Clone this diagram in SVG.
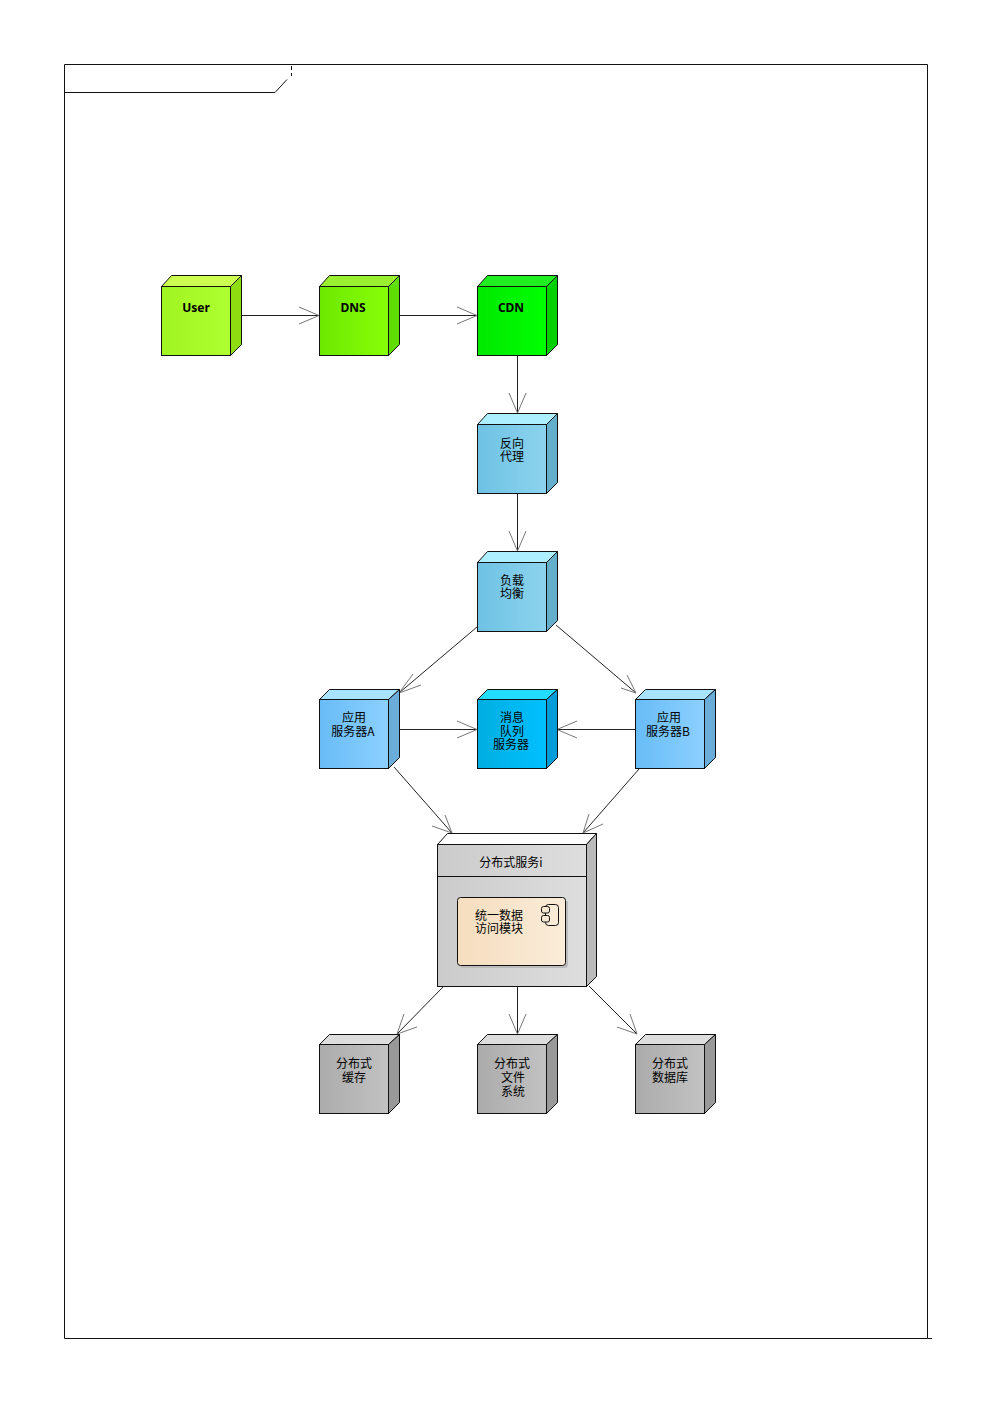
<svg xmlns="http://www.w3.org/2000/svg" width="992" height="1403" viewBox="0 0 992 1403">
<style>
.e{stroke:#111;stroke-width:1;stroke-linejoin:miter}
.f{fill:none;stroke:#111;stroke-width:1}
.p{stroke:#111;stroke-width:1;fill:#F8E8D2}
.c{fill:none;stroke:#222;stroke-width:1}
.h{fill:none;stroke:#777;stroke-width:1}
text{font-family:"Noto Sans CJK SC","Liberation Sans",sans-serif;font-size:12px;fill:#000;text-anchor:middle}
.b{font-family:"Noto Sans","Noto Sans CJK SC",sans-serif;font-weight:700;font-size:12px}
</style>
<defs>
<linearGradient id="gU"><stop offset="0" stop-color="#A0F420"/><stop offset="1" stop-color="#AFFF30"/></linearGradient>
<linearGradient id="gD"><stop offset="0" stop-color="#6CE800"/><stop offset="1" stop-color="#88FF08"/></linearGradient>
<linearGradient id="gC"><stop offset="0" stop-color="#00E800"/><stop offset="1" stop-color="#00FF00"/></linearGradient>
<linearGradient id="gP"><stop offset="0" stop-color="#6EC2E4"/><stop offset="1" stop-color="#8CD3EE"/></linearGradient>
<linearGradient id="gA"><stop offset="0" stop-color="#68BCF6"/><stop offset="1" stop-color="#8CD0FF"/></linearGradient>
<linearGradient id="gM"><stop offset="0" stop-color="#00AEE0"/><stop offset="1" stop-color="#00C0FF"/></linearGradient>
<linearGradient id="gS"><stop offset="0" stop-color="#CBCBCB"/><stop offset="1" stop-color="#DEDEDE"/></linearGradient>
<linearGradient id="gG"><stop offset="0" stop-color="#ABABAB"/><stop offset="1" stop-color="#C2C2C2"/></linearGradient>
<linearGradient id="gO"><stop offset="0" stop-color="#F6DDBE"/><stop offset="1" stop-color="#FAECD9"/></linearGradient>
</defs>
<g id="frame">
<path class="f" d="M64.500 64.500H927.500V1338.500H64.500Z"/>
<path class="f" d="M64.500 92.500H275L287 79.500"/>
<path class="f" stroke-dasharray="4 3" d="M291.500 66V76"/>
<path class="f" d="M927.500 1338.500H932"/>
</g>
<g id="connectors">
<path class="c" d="M241 315.500H319M399 315.500H477M517.500 355V413M517.500 493V551M477 627L399 693M556 625L636 693M399 729.500H477M635 729.500H557M394 767L452 833M639 769L583 833M444 986L397 1034M517.500 986V1034M589 986L637 1034"/>
<path class="h" d="M299 307L319 315.500L299 324M457 307L477 315.500L457 324M509 393L517.500 413L526 393M509 531L517.500 551L526 531M413 674L399 693L421 685M621 688L636 693L627 675M457 721L477 729.500L457 738M577 721L557 729.500L577 738M432 826L452 833L445 815M589 814L583 833L603 824M404 1014L397 1034L417 1027M509 1014L517.500 1034L526 1014M617 1027L637 1034L630 1014"/>
</g>
<g id="user"><path class="e" fill="#CDFF50" d="M161.500 286.500L171.500 275.500H241.500L230.500 286.500Z"/><path class="e" fill="#8FDD10" d="M230.500 286.500L241.500 275.500V344.500L230.500 355.500Z"/><rect class="e" x="161.500" y="286.500" width="69" height="69" fill="url(#gU)"/><text class="b" x="196" y="312">User</text></g>
<g id="dns"><path class="e" fill="#9AF030" d="M319.500 286.500L329.500 275.500H399.500L388.500 286.500Z"/><path class="e" fill="#5FDC00" d="M388.500 286.500L399.500 275.500V344.500L388.500 355.500Z"/><rect class="e" x="319.500" y="286.500" width="69" height="69" fill="url(#gD)"/><text class="b" x="353" y="312">DNS</text></g>
<g id="cdn"><path class="e" fill="#20EE20" d="M477.500 286.500L487.500 275.500H557.500L546.500 286.500Z"/><path class="e" fill="#00D000" d="M546.500 286.500L557.500 275.500V344.500L546.500 355.500Z"/><rect class="e" x="477.500" y="286.500" width="69" height="69" fill="url(#gC)"/><text class="b" x="511" y="312">CDN</text></g>
<g id="proxy"><path class="e" fill="#AEEFFF" d="M477.500 424.500L487.500 413.500H557.500L546.500 424.500Z"/><path class="e" fill="#65AECB" d="M546.500 424.500L557.500 413.500V482.500L546.500 493.500Z"/><rect class="e" x="477.500" y="424.500" width="69" height="69" fill="url(#gP)"/><text x="512" y="448">反向<tspan x="512" dy="12.500">代理</tspan></text></g>
<g id="lb"><path class="e" fill="#AEEFFF" d="M477.500 562.500L487.500 551.500H557.500L546.500 562.500Z"/><path class="e" fill="#65AECB" d="M546.500 562.500L557.500 551.500V620.500L546.500 631.500Z"/><rect class="e" x="477.500" y="562.500" width="69" height="69" fill="url(#gP)"/><text x="512" y="585">负载<tspan x="512" dy="13">均衡</tspan></text></g>
<g id="appA"><path class="e" fill="#A8E4FF" d="M319.500 699.500L329.500 689.500H399.500L388.500 699.500Z"/><path class="e" fill="#6AADD8" d="M388.500 699.500L399.500 689.500V757.500L388.500 768.500Z"/><rect class="e" x="319.500" y="699.500" width="69" height="69" fill="url(#gA)"/><text x="354" y="722">应用<tspan x="353" dy="14">服务器A</tspan></text></g>
<g id="mq"><path class="e" fill="#22DDFF" d="M477.500 699.500L487.500 689.500H557.500L546.500 699.500Z"/><path class="e" fill="#009DD8" d="M546.500 699.500L557.500 689.500V757.500L546.500 768.500Z"/><rect class="e" x="477.500" y="699.500" width="69" height="69" fill="url(#gM)"/><text x="512" y="722">消息<tspan x="512" dy="14">队列</tspan><tspan x="511" dy="13">服务器</tspan></text></g>
<g id="appB"><path class="e" fill="#A8E4FF" d="M635.500 699.500L645.500 689.500H715.500L704.500 699.500Z"/><path class="e" fill="#6AADD8" d="M704.500 699.500L715.500 689.500V757.500L704.500 768.500Z"/><rect class="e" x="635.500" y="699.500" width="69" height="69" fill="url(#gA)"/><text x="669" y="722">应用<tspan x="668" dy="14">服务器B</tspan></text></g>
<g id="service"><path class="e" fill="#fff" d="M437.500 844.500L447.500 833.500H596.500L586.500 844.500Z"/><path class="e" fill="#BBB" d="M586.500 844.500L596.500 833.500V976.500L586.500 986.500Z"/><rect class="e" x="437.500" y="844.500" width="149" height="142" fill="url(#gS)"/><path class="f" d="M437.500 876.500H586.500"/><text x="511" y="867">分布式服务i</text>
<rect x="460" y="900" width="108" height="68" rx="3" fill="#bbb"/>
<g id="module"><rect class="e" x="457.500" y="897.500" width="108" height="68" rx="3" fill="url(#gO)"/><text x="499" y="920">统一数据<tspan x="499" dy="13">访问模块</tspan></text><rect class="f" x="545.500" y="904.500" width="13" height="21" rx="3"/><rect class="p" x="541.500" y="906.500" width="8" height="6.500" rx="2"/><rect class="p" x="541.500" y="915.500" width="8" height="6.500" rx="2"/></g></g>
<g id="cache"><path class="e" fill="#DDD" d="M319.500 1044.500L329.500 1034.500H399.500L388.500 1044.500Z"/><path class="e" fill="#999" d="M388.500 1044.500L399.500 1034.500V1102.500L388.500 1113.500Z"/><rect class="e" x="319.500" y="1044.500" width="69" height="69" fill="url(#gG)"/><text x="354" y="1068">分布式<tspan x="354" dy="14">缓存</tspan></text></g>
<g id="dfs"><path class="e" fill="#DDD" d="M477.500 1044.500L487.500 1034.500H557.500L546.500 1044.500Z"/><path class="e" fill="#999" d="M546.500 1044.500L557.500 1034.500V1102.500L546.500 1113.500Z"/><rect class="e" x="477.500" y="1044.500" width="69" height="69" fill="url(#gG)"/><text x="512" y="1068">分布式<tspan x="513" dy="14">文件</tspan><tspan x="513" dy="14">系统</tspan></text></g>
<g id="db"><path class="e" fill="#DDD" d="M635.500 1044.500L645.500 1034.500H715.500L704.500 1044.500Z"/><path class="e" fill="#999" d="M704.500 1044.500L715.500 1034.500V1102.500L704.500 1113.500Z"/><rect class="e" x="635.500" y="1044.500" width="69" height="69" fill="url(#gG)"/><text x="670" y="1068">分布式<tspan x="670" dy="14">数据库</tspan></text></g>
</svg>
